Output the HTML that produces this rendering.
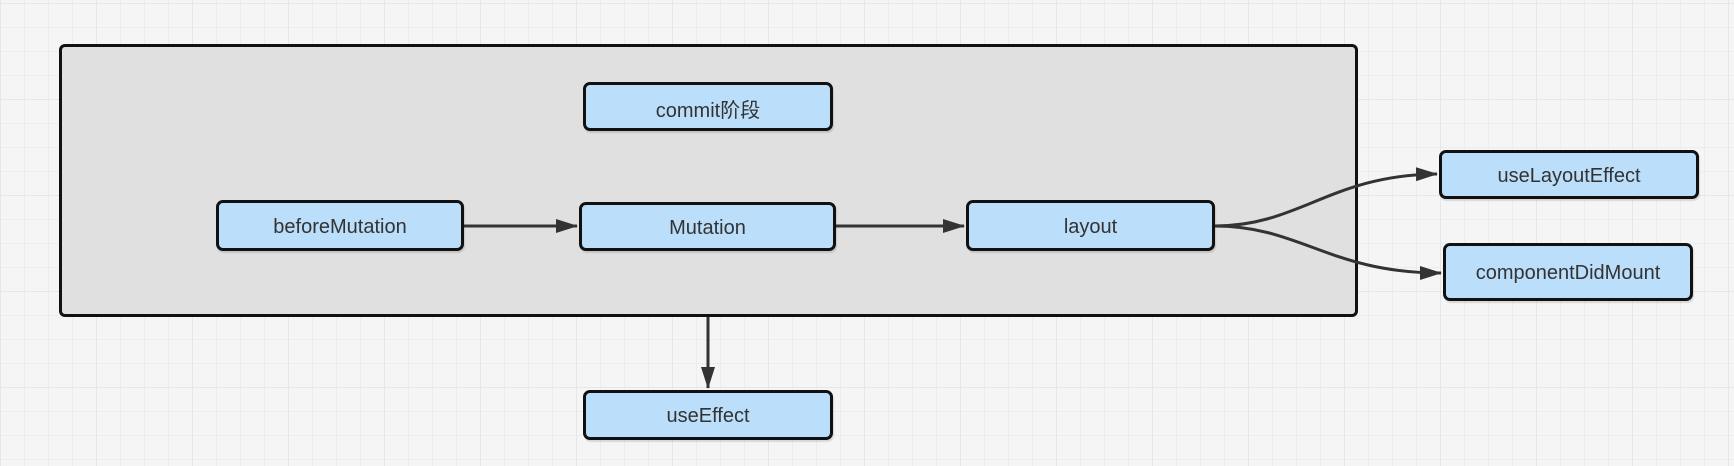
<!DOCTYPE html>
<html><head><meta charset="utf-8"><style>
html,body{margin:0;padding:0}
body{width:1734px;height:466px;position:relative;overflow:hidden;background-color:#f5f5f5;
background-image:
linear-gradient(to right,#e6e6e6 1px,transparent 1px),
linear-gradient(to bottom,#e6e6e6 1px,transparent 1px),
linear-gradient(to right,#ededed 1px,transparent 1px),
linear-gradient(to bottom,#ededed 1px,transparent 1px);
background-size:96px 96px,96px 96px,24px 24px,24px 24px;
background-position:0 3px,0 3px,0 3px,0 3px;
font-family:"Comic Sans MS","Liberation Sans","Noto Sans CJK SC",sans-serif;}
.c{position:absolute;left:59px;top:44px;width:1293px;height:267px;background:#e0e0e0;border:3px solid #111;border-radius:6px}
.b{position:absolute;box-sizing:border-box;background:#bbdefa;border:3px solid #111;border-radius:7px;display:flex;align-items:center;justify-content:center;font-size:20px;color:#333;padding-top:3px;box-shadow:1px 2px 1px rgba(0,0,0,.12)}
svg{position:absolute;left:0;top:0}
</style></head><body>
<div class="c"></div>
<svg width="1734" height="466">
<defs>
<marker id="m" markerWidth="22" markerHeight="14" refX="21" refY="7" orient="auto" markerUnits="userSpaceOnUse"><path d="M0,0 L22,7 L0,14z" fill="#333"/></marker></defs>
<g stroke="#333" stroke-width="3" fill="none">
<path d="M464 226 L577 226" marker-end="url(#m)"/>
<path d="M836 226 L964 226" marker-end="url(#m)"/>
<path d="M708 317 L708 388" marker-end="url(#m)"/>
<path d="M1215 226 C1300 226 1330 175 1437 174" marker-end="url(#m)"/>
<path d="M1215 226 C1300 226 1330 273 1441 273" marker-end="url(#m)"/>
</g></svg>
<div class="b" style="left:583px;top:82px;width:250px;height:49px">commit阶段</div>
<div class="b" style="left:216px;top:200px;width:248px;height:51px">beforeMutation</div>
<div class="b" style="left:579px;top:202px;width:257px;height:49px">Mutation</div>
<div class="b" style="left:966px;top:200px;width:249px;height:51px">layout</div>
<div class="b" style="left:583px;top:390px;width:250px;height:50px">useEffect</div>
<div class="b" style="left:1439px;top:150px;width:260px;height:49px">useLayoutEffect</div>
<div class="b" style="left:1443px;top:243px;width:250px;height:58px">componentDidMount</div>
</body></html>
